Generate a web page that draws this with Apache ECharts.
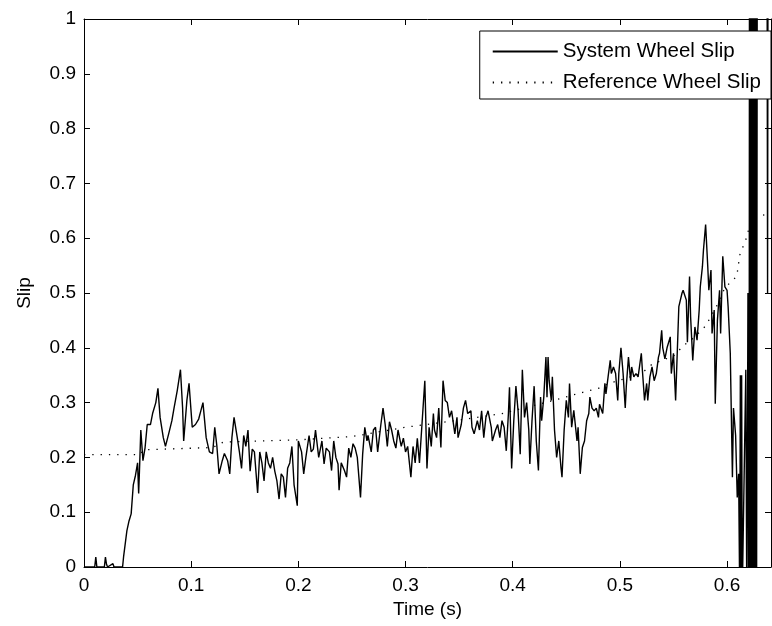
<!DOCTYPE html>
<html><head><meta charset="utf-8">
<script src="https://cdn.jsdelivr.net/npm/echarts@6/dist/echarts.min.js"></script>
<style>html,body{margin:0;padding:0;background:#fff}#c{width:772px;height:626px}</style>
</head><body><div id="c"></div>
<script>
const xTickLabels = ['0','0.1','0.2','0.3','0.4','0.5','0.6'];
const yTickLabels = ['0','0.1','0.2','0.3','0.4','0.5','0.6','0.7','0.8','0.9','1'];
const seriesNames = ['System Wheel Slip','Reference Wheel Slip'];

const slipTime = [
0.000,0.010,0.011,0.012,0.019,0.020,0.021,0.022,0.027,0.028,0.036,0.037,
0.040,0.042,0.044,0.046,0.048,0.050,0.051,0.052,0.053,0.055,0.057,0.059,
0.062,0.064,0.067,0.069,0.071,0.074,0.076,0.079,0.082,0.084,0.087,0.090,
0.092,0.093,0.096,0.098,0.101,0.104,0.107,0.109,0.111,0.114,0.117,0.120,
0.122,0.124,0.126,0.129,0.131,0.134,0.136,0.138,0.140,0.143,0.145,0.147,
0.149,0.151,0.153,0.155,0.157,0.159,0.162,0.164,0.166,0.168,0.170,0.172,
0.174,0.176,0.178,0.180,0.182,0.184,0.186,0.188,0.190,0.192,0.194,0.196,
0.199,0.200,0.203,0.205,0.207,0.210,0.212,0.214,0.216,0.217,0.219,0.222,
0.224,0.226,0.229,0.231,0.233,0.235,0.237,0.238,0.240,0.243,0.245,0.247,
0.249,0.251,0.253,0.255,0.258,0.260,0.262,0.264,0.265,0.268,0.270,0.272,
0.274,0.277,0.279,0.281,0.283,0.285,0.287,0.289,0.291,0.293,0.296,0.298,
0.300,0.302,0.305,0.307,0.309,0.311,0.313,0.315,0.317,0.318,0.320,0.322,
0.324,0.326,0.327,0.329,0.331,0.333,0.335,0.337,0.339,0.341,0.343,0.346,
0.348,0.349,0.352,0.354,0.356,0.358,0.361,0.362,0.364,0.367,0.369,0.371,
0.373,0.375,0.377,0.380,0.381,0.384,0.386,0.388,0.390,0.392,0.394,0.396,
0.397,0.399,0.401,0.403,0.405,0.407,0.409,0.411,0.413,0.415,0.416,0.418,
0.420,0.422,0.424,0.426,0.427,0.429,0.431,0.432,0.433,0.434,0.436,0.437,
0.439,0.441,0.443,0.445,0.446,0.448,0.450,0.452,0.453,0.455,0.457,0.460,
0.461,0.463,0.465,0.467,0.469,0.471,0.472,0.474,0.476,0.478,0.480,0.481,
0.484,0.486,0.487,0.489,0.491,0.492,0.494,0.496,0.498,0.499,0.501,0.503,
0.505,0.506,0.508,0.510,0.511,0.513,0.515,0.517,0.520,0.521,0.523,0.525,
0.526,0.528,0.530,0.532,0.534,0.536,0.537,0.539,0.540,0.542,0.544,0.547,
0.548,0.550,0.552,0.555,0.558,0.559,0.562,0.563,0.565,0.566,0.568,0.570,
0.572,0.574,0.575,0.577,0.578,0.580,0.582,0.583,0.585,0.586,0.588,0.589,
0.591,0.593,0.594,0.596,0.598,0.600,0.601,0.603,0.605,0.606,0.608,0.6095,
0.6108,0.6118,0.6124,0.6130,0.6136,0.6142,0.6160,0.6175,0.6185,0.6195,0.6205,0.6210,
0.6218,0.6225,0.6232,0.6238,0.6245,0.6252,0.6260,0.6268,0.6275,0.6283,0.6290,0.6370,
0.6378,0.6385,0.6410
];
const slipValue = [
0,0,0.018,0,0,0.018,0.005,0,0.006,0,0,0.02,
0.066,0.084,0.097,0.15,0.167,0.19,0.134,0.19,0.25,0.194,0.218,0.26,
0.26,0.28,0.30,0.326,0.273,0.236,0.22,0.243,0.267,0.29,0.322,0.36,
0.29,0.23,0.304,0.335,0.255,0.26,0.27,0.285,0.30,0.236,0.21,0.207,
0.255,0.22,0.17,0.194,0.207,0.194,0.17,0.236,0.273,0.236,0.21,0.18,
0.24,0.22,0.25,0.175,0.215,0.21,0.135,0.21,0.19,0.157,0.21,0.19,
0.18,0.2,0.175,0.157,0.124,0.17,0.164,0.127,0.18,0.19,0.22,0.15,
0.112,0.23,0.21,0.17,0.2,0.24,0.21,0.215,0.25,0.25,0.2,0.23,
0.188,0.217,0.21,0.176,0.23,0.2,0.188,0.14,0.19,0.176,0.164,0.217,
0.2,0.225,0.217,0.2,0.127,0.206,0.255,0.23,0.24,0.21,0.25,0.255,
0.21,0.26,0.29,0.26,0.22,0.265,0.25,0.23,0.217,0.25,0.22,0.235,
0.21,0.22,0.164,0.22,0.19,0.235,0.19,0.25,0.31,0.34,0.18,0.255,
0.22,0.28,0.25,0.236,0.29,0.218,0.34,0.304,0.3,0.273,0.285,0.243,
0.273,0.236,0.26,0.29,0.304,0.28,0.285,0.255,0.243,0.267,0.25,0.285,
0.236,0.273,0.285,0.255,0.23,0.25,0.26,0.236,0.267,0.255,0.212,0.28,
0.328,0.18,0.267,0.33,0.285,0.206,0.36,0.273,0.3,0.25,0.188,0.267,
0.33,0.23,0.176,0.31,0.267,0.31,0.383,0.31,0.383,0.34,0.304,0.347,
0.25,0.2,0.23,0.182,0.164,0.25,0.304,0.273,0.335,0.255,0.286,0.23,
0.255,0.17,0.218,0.23,0.267,0.28,0.31,0.29,0.285,0.29,0.273,0.297,
0.28,0.335,0.316,0.347,0.377,0.353,0.365,0.353,0.304,0.353,0.4,0.353,
0.29,0.33,0.383,0.34,0.365,0.347,0.353,0.347,0.39,0.359,0.304,0.335,
0.304,0.347,0.365,0.34,0.353,0.383,0.39,0.432,0.40,0.38,0.40,0.42,
0.353,0.39,0.304,0.475,0.5,0.505,0.487,0.41,0.53,0.456,0.377,0.438,
0.414,0.469,0.511,0.548,0.579,0.625,0.548,0.505,0.542,0.426,0.469,0.298,
0.45,0.505,0.426,0.567,0.511,0.505,0.475,0.39,0.164,0.29,0.24,0.127,
0.17,-0.05,0.35,-0.05,0.35,-0.05,-0.05,0.36,-0.1,0.5,-0.2,1.4,
-0.2,1.4,-0.2,1.4,-0.2,1.4,-0.2,1.4,-0.2,1.4,1.6,1.6,
0.5,1.6,1.6
];

const refTime = [0,0.052,0.056,0.12,0.13,0.20,0.25,0.30,0.35,0.39,0.42,0.44,0.46,0.48,0.49,0.52,0.53,0.55,0.56,0.57,0.58,0.59,0.597,0.603,0.609,0.612,0.618,0.622,0.628,0.641];
const refValue = [0.205,0.205,0.214,0.218,0.228,0.232,0.238,0.255,0.268,0.28,0.295,0.305,0.316,0.326,0.335,0.353,0.37,0.385,0.405,0.42,0.44,0.475,0.505,0.52,0.53,0.57,0.6,0.63,0.64,0.645];

const FONT = '"Liberation Sans", Arial, Helvetica, sans-serif';
const fmtX = v => { const i = Math.round(v * 10); return Math.abs(v - i / 10) < 1e-9 && xTickLabels[i] !== undefined ? xTickLabels[i] : ''; };
const fmtY = v => { const i = Math.round(v * 10); return Math.abs(v - i / 10) < 1e-9 && yTickLabels[i] !== undefined ? yTickLabels[i] : ''; };

const axisCommon = {
  axisLine: { show: true, onZero: false, lineStyle: { color: '#000', width: 1 } },
  axisTick: { show: true, inside: true, length: 6, lineStyle: { color: '#000', width: 1 } },
  splitLine: { show: false }
};

const chart = echarts.init(document.getElementById('c'), null, { renderer: 'canvas' });
chart.setOption({
  animation: false,
  backgroundColor: '#fff',
  grid: { left: 84, right: 1, top: 19, bottom: 59, containLabel: false, outerBoundsMode: 'none' },
  legend: {
    orient: 'vertical', right: 1, top: 31,
    itemWidth: 65, itemHeight: 14, itemGap: 10,
    padding: [10, 10, 6, 12],
    borderColor: '#000', borderWidth: 1, backgroundColor: '#fff',
    textStyle: { fontSize: 20.5, fontFamily: FONT, color: '#000' },
    itemStyle: { color: 'rgba(0,0,0,0)', borderWidth: 0, opacity: 0 },
    data: seriesNames,
    selectedMode: false
  },
  xAxis: [
    Object.assign({ type: 'value', min: 0, max: 0.641, interval: 0.1, position: 'bottom',
      axisLabel: { show: true, margin: 9, fontSize: 19, fontFamily: FONT, color: '#000', formatter: fmtX, showMaxLabel: false },
      name: 'Time (s)', nameLocation: 'middle', nameGap: 14,
      nameTextStyle: { fontSize: 19, fontFamily: FONT, color: '#000', verticalAlign: 'top', padding: [0, 0, 0, 0] } }, axisCommon),
    Object.assign({ type: 'value', min: 0, max: 0.641, interval: 0.1, position: 'top',
      axisLabel: { show: false } }, axisCommon)
  ],
  yAxis: [
    Object.assign({ type: 'value', min: 0, max: 1, interval: 0.1, position: 'left',
      axisLabel: { show: true, margin: 8, fontSize: 19, fontFamily: FONT, color: '#000', formatter: fmtY },
      name: 'Slip', nameLocation: 'middle', nameGap: 50, nameRotate: 90,
      nameTextStyle: { fontSize: 19, fontFamily: FONT, color: '#000' } }, axisCommon),
    Object.assign({ type: 'value', min: 0, max: 1, interval: 0.1, position: 'right',
      axisLabel: { show: false } }, axisCommon)
  ],
  series: [
    {
      name: seriesNames[0], type: 'line', xAxisIndex: 0, yAxisIndex: 0,
      data: slipTime.map((t, i) => [t, slipValue[i]]),
      symbol: 'none', clip: true,
      lineStyle: { color: '#000', width: 1.4 },
      itemStyle: { color: '#000' },
      emphasis: { disabled: true }
    },
    {
      name: seriesNames[1], type: 'line', xAxisIndex: 0, yAxisIndex: 0,
      data: refTime.map((t, i) => [t, refValue[i]]),
      symbol: 'none', clip: true,
      lineStyle: { color: '#000', width: 1.3, type: [1.3, 7] },
      itemStyle: { color: '#000' },
      emphasis: { disabled: true }
    }
  ]
});
</script>
</body></html>
